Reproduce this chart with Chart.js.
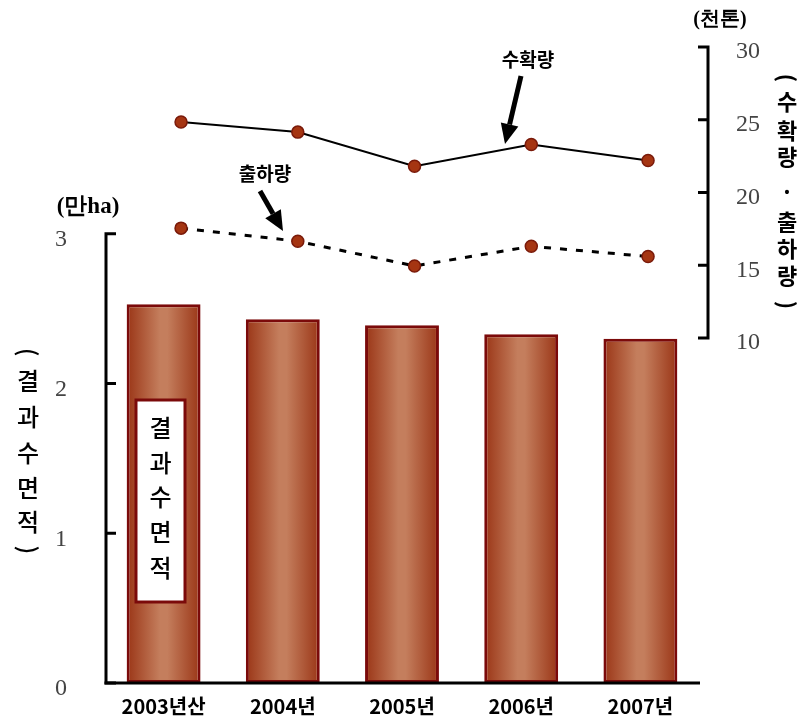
<!DOCTYPE html>
<html>
<head>
<meta charset="utf-8">
<script src="https://cdn.jsdelivr.net/npm/chart.js@4.4.1/dist/chart.umd.min.js"></script>
<style>
  html, body { margin: 0; padding: 0; background: #fff; }
  #wrap { width: 812px; height: 725px; }
</style>
</head>
<body>
<div id="wrap"><canvas id="chart" width="812" height="725"></canvas></div>
<script>
// data
const years = ['2003년산', '2004년', '2005년', '2006년', '2007년']
const area = [2.53, 2.43, 2.39, 2.33, 2.30]          // 결과수면적 (만ha)
const harvest = [24.85, 24.15, 21.8, 23.3, 22.2]     // 수확량 (천톤)
const shipment = [17.55, 16.65, 14.95, 16.3, 15.6]   // 출하량 (천톤)
const areaTicks = [0, 1, 2, 3]
const tonTicks = [10, 15, 20, 25, 30]

const serif = "'Liberation Serif', 'DejaVu Serif', serif"
const kr = "'Noto Sans CJK KR', sans-serif"
const BAR_PCT = 0.62

function barFill(ctx) {
    const chart = ctx.chart
    const xs = chart.scales.x
    if (!xs || !chart.chartArea) return '#b0603c'
    const cx = xs.getPixelForValue(ctx.dataIndex)
    const w = xs.width / years.length * BAR_PCT
    const g = chart.ctx.createLinearGradient(cx - w / 2, 0, cx + w / 2, 0)
    g.addColorStop(0, '#9a3516')
    g.addColorStop(0.45, '#c47e5d')
    g.addColorStop(0.55, '#c47e5d')
    g.addColorStop(1, '#9a3516')
    return g
}

function arrow(c, x1, y1, x2, y2) {
    const a = Math.atan2(y2 - y1, x2 - x1)
    const hl = 20, hw = 9
    const bx = x2 - hl * Math.cos(a), by = y2 - hl * Math.sin(a)
    c.strokeStyle = '#000'
    c.fillStyle = '#000'
    c.lineWidth = 5
    c.beginPath()
    c.moveTo(x1, y1)
    c.lineTo(bx, by)
    c.stroke()
    c.beginPath()
    c.moveTo(x2, y2)
    c.lineTo(bx + hw * Math.sin(a), by - hw * Math.cos(a))
    c.lineTo(bx - hw * Math.sin(a), by + hw * Math.cos(a))
    c.closePath()
    c.fill()
}

function vText(c, chars, x, ys, font) {
    c.font = font
    c.textAlign = 'center'
    c.textBaseline = 'middle'
    chars.forEach((ch, i) => {
        if (ch === '(' || ch === ')') {
            c.save()
            c.translate(x, ys[i])
            c.rotate(Math.PI / 2)
            c.fillText(ch, 0, 0)
            c.restore()
        } else {
            c.fillText(ch, x, ys[i])
        }
    })
}

// no extra room for the y tick labels, the layout is fixed by hand
function fixY(width) {
    return s => {
        s.width = width
        s.paddingTop = 0
        s.paddingBottom = 0
    }
}

const decorations = {
    id: 'decorations',
    afterDraw(chart) {
        const c = chart.ctx
        const area = chart.chartArea
        const yl = chart.scales.yl, yr = chart.scales.yr
        c.save()
        c.strokeStyle = '#000'
        c.lineWidth = 3
        c.lineCap = 'butt'

        // left axis
        const lx = area.left + 2
        c.beginPath()
        c.moveTo(lx, yl.getPixelForValue(0))
        c.lineTo(lx, yl.getPixelForValue(3))
        areaTicks.forEach(v => {
            c.moveTo(lx - 1.5, yl.getPixelForValue(v))
            c.lineTo(lx + 10, yl.getPixelForValue(v))
        })
        c.stroke()

        // bottom axis
        c.beginPath()
        c.moveTo(lx - 1.5, yl.getPixelForValue(0))
        c.lineTo(area.right, yl.getPixelForValue(0))
        c.stroke()

        // right axis
        const rx = area.right + 8
        c.beginPath()
        c.moveTo(rx, yr.getPixelForValue(10))
        c.lineTo(rx, yr.getPixelForValue(30))
        tonTicks.forEach(v => {
            c.moveTo(rx + 1.5, yr.getPixelForValue(v))
            c.lineTo(rx - 10, yr.getPixelForValue(v))
        })
        c.stroke()

        c.fillStyle = '#000'
        // unit labels
        c.font = 'bold 23px ' + serif
        c.textAlign = 'center'
        c.textBaseline = 'middle'
        c.fillText('(만ha)', 88, 207)
        c.font = 'bold 20px ' + serif
        c.fillText('(천톤)', 720, 20)

        // axis titles, written vertically
        vText(c, ['(', '결', '과', '수', '면', '적', ')'], 28,
            [352, 381, 417, 453, 488, 522, 550], '500 24px ' + kr)
        vText(c, ['(', '수', '확', '량', '·', '출', '하', '량', ')'], 787,
            [78, 102, 131, 157, 192, 222, 249, 276, 305], 'bold 22px ' + kr)

        // label box inside the first bar
        c.fillStyle = '#fff'
        c.fillRect(136, 400, 49, 202)
        c.strokeStyle = '#7b0a0a'
        c.lineWidth = 3
        c.strokeRect(136, 400, 49, 202)
        c.fillStyle = '#000'
        vText(c, ['결', '과', '수', '면', '적'], 160.5,
            [428, 463, 497, 532, 568], '500 24px ' + kr)

        // annotations
        c.font = 'bold 19px ' + kr
        c.fillText('수확량', 528, 60)
        c.fillText('출하량', 265, 174)
        arrow(c, 521, 76, 505, 144)
        arrow(c, 260, 191, 283, 231)
        c.restore()
    }
}

new Chart(document.getElementById('chart'), {
    data: {
        labels: years,
        datasets: [
            {
                type: 'line',
                label: '수확량',
                data: harvest.map((v, i) => ({ x: i, y: v })),
                xAxisID: 'xl',
                yAxisID: 'yr',
                borderColor: '#000',
                borderWidth: 2,
                pointRadius: 6,
                pointBackgroundColor: '#a53512',
                pointBorderColor: '#7a1a0a',
                pointBorderWidth: 1.5,
                order: 0,
            },
            {
                type: 'line',
                label: '출하량',
                data: shipment.map((v, i) => ({ x: i, y: v })),
                xAxisID: 'xl',
                yAxisID: 'yr',
                borderColor: '#000',
                borderWidth: 3,
                borderDash: [7, 9],
                pointRadius: 6,
                pointBackgroundColor: '#a53512',
                pointBorderColor: '#7a1a0a',
                pointBorderWidth: 1.5,
                order: 0,
            },
            {
                type: 'bar',
                label: '결과수면적',
                data: area,
                xAxisID: 'x',
                yAxisID: 'yl',
                grouped: false,
                backgroundColor: barFill,
                borderColor: '#7b0a0a',
                borderWidth: 3,
                borderSkipped: false,
                categoryPercentage: 1,
                barPercentage: BAR_PCT,
                order: 1,
            },
        ]
    },
    options: {
        responsive: false,
        animation: false,
        layout: { padding: { top: 40, left: 0, right: 0, bottom: 0 } },
        plugins: {
            legend: { display: false },
            tooltip: { enabled: false },
        },
        scales: {
            x: {
                type: 'category',
                grid: { display: false },
                border: { display: false },
                ticks: {
                    color: '#000',
                    padding: 3,
                    maxRotation: 0,
                    font: { family: kr, size: 20, weight: 'bold' },
                },
                afterFit: s => { s.height = 42 },
            },
            xl: {
                type: 'linear',
                display: false,
                min: -0.66,
                max: 4.445,
            },
            yl: {
                position: 'left',
                min: 0,
                max: 4.295,
                grid: { display: false },
                border: { display: false },
                afterBuildTicks: s => { s.ticks = areaTicks.map(v => ({ value: v })) },
                afterFit: fixY(104),
                ticks: {
                    color: '#444',
                    padding: 29,
                    labelOffset: 6,
                    font: { family: serif, size: 24 },
                },
            },
            yr: {
                position: 'right',
                min: -13.71,
                max: 30.48,
                grid: { display: false },
                border: { display: false },
                afterBuildTicks: s => { s.ticks = tonTicks.map(v => ({ value: v })) },
                afterFit: fixY(112),
                ticks: {
                    color: '#444',
                    padding: 28,
                    labelOffset: 5,
                    font: { family: serif, size: 24 },
                },
            },
        }
    },
    plugins: [decorations]
})
</script>
</body>
</html>
